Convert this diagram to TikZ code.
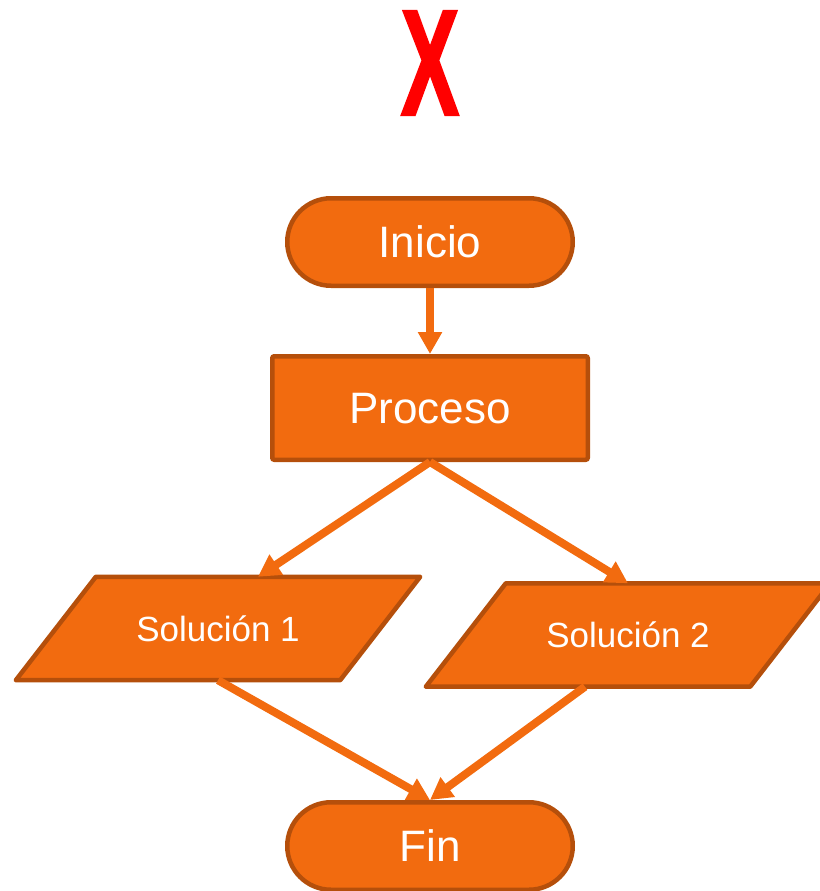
\documentclass[tikz,border=0pt]{standalone}
\usepackage{fontspec}
\setmainfont{Liberation Sans}
\newfontfamily\markfont[BoldFeatures={FakeBold=2}]{Liberation Sans}
\usetikzlibrary{arrows.meta,calc}
\definecolor{boxfill}{HTML}{F26B0F}
\definecolor{boxedge}{HTML}{B54F0B}
\definecolor{markred}{HTML}{FF0000}
\pgfdeclarelayer{background}
\pgfsetlayers{background,main}
\tikzset{
  base/.style={fill=boxfill, draw=boxedge, line width=4.5pt, text=white,
    inner sep=0pt, text height=31.5pt, text depth=0pt,
    font=\fontsize{44}{52}\selectfont},
  terminal/.style={base, rectangle, rounded corners=43.75pt,
    minimum width=285.5pt, minimum height=87.5pt},
  procbox/.style={base, rectangle, rounded corners=2pt,
    minimum width=315.5pt, minimum height=103.5pt},
  iolabel/.style={rectangle, inner sep=0pt, text=white,
    minimum width=324pt, minimum height=103pt,
    text height=25pt, text depth=0pt, font=\fontsize{35}{42}\selectfont},
  ioshape/.style={fill=boxfill, draw=boxedge, line width=4.5pt, line join=round},
  flow/.style={draw=boxfill, line width=8pt, -{Triangle[width=23pt,length=22pt]}},
}
\begin{document}
\begin{tikzpicture}[x=1pt, y=-1pt]
\useasboundingbox (0,0) rectangle (819,891);

% big red mark at the top
\node[text=markred, inner sep=0pt, font=\markfont\bfseries\fontsize{150}{156}\selectfont]
  (mark) at (430,63) {\scalebox{0.58}[1]{X}};

% flowchart blocks
\node[terminal] (ini) at (430,242) {Inicio};
\node[procbox]  (pro) at (430,408) {Proceso};
\node[iolabel]  (s1)  at (218,628.5) {Solución 1};
\node[iolabel]  (s2)  at (628,635) {Solución 2};
\node[terminal] (fin) at (430,846) {Fin};

% parallelogram outlines behind the input/output labels
\begin{pgfonlayer}{background}
  \foreach \n in {s1,s2} {
    \path[ioshape] ($(\n.north west)+(40,0)$) -- ($(\n.north east)+(40,0)$)
      -- ($(\n.south east)+(-40,0)$) -- ($(\n.south west)+(-40,0)$) -- cycle;
  }
\end{pgfonlayer}

% connectors
\draw[flow] (ini.south) -- (pro.north);
\draw[flow] (pro.south) -- ($(s1.north)+(40,0)$);
\draw[flow] (pro.south) -- (s2.north);
\draw[flow] (s1.south) -- (fin.north);
\draw[flow] ($(s2.south)+(-43,0)$) -- (fin.north);
\end{tikzpicture}
\end{document}
